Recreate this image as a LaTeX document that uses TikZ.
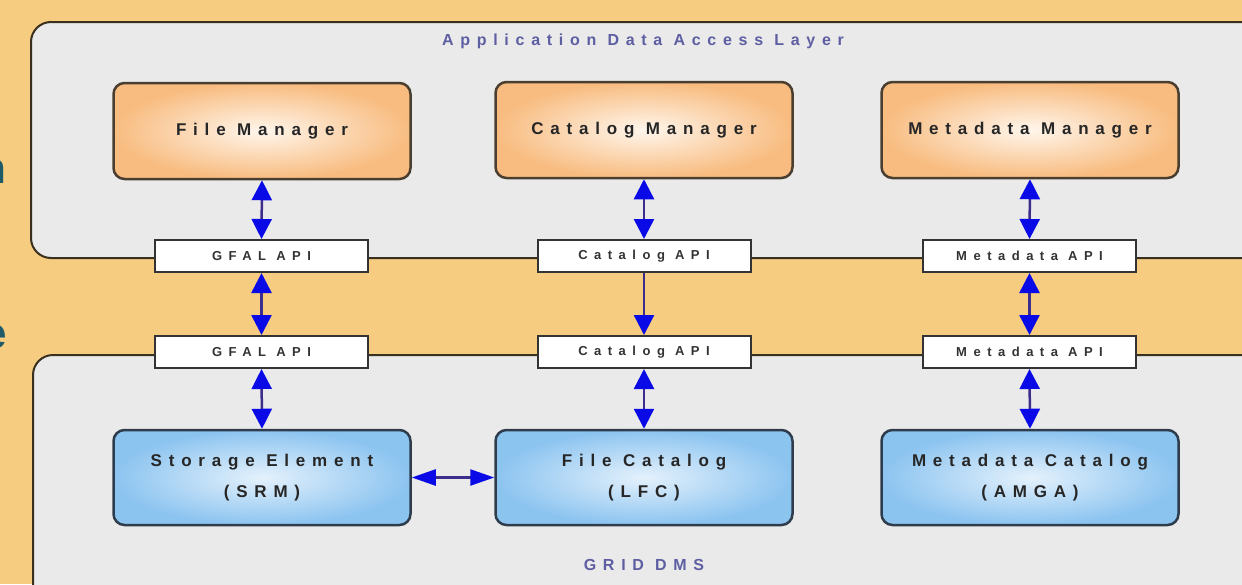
\documentclass[tikz,border=0pt]{standalone}
\usepackage{fontspec}
\usetikzlibrary{arrows.meta,shapes.geometric}
\setmainfont{Liberation Sans}
\newfontfamily\boxfont[LetterSpace=40]{Liberation Sans}
\newfontfamily\apifont[LetterSpace=50]{Liberation Sans}
\newfontfamily\layerfont[LetterSpace=42]{Liberation Sans}
\newfontfamily\slidefont{Liberation Sans}

\definecolor{pagebg}{HTML}{F5CC80}
\definecolor{panelbg}{HTML}{EAEAEA}
\definecolor{panelline}{HTML}{3A3020}
\definecolor{mgrout}{HTML}{F8BC80}
\definecolor{mgrin}{HTML}{FFF6EC}
\definecolor{mgrline}{HTML}{4A3E30}
\definecolor{dmsout}{HTML}{8CC4F0}
\definecolor{dmsin}{HTML}{E4F1FC}
\definecolor{dmsline}{HTML}{2E3C4C}
\definecolor{layertext}{HTML}{5E5EA2}
\definecolor{boxtext}{HTML}{262626}
\definecolor{linkline}{HTML}{3C2C8C}
\definecolor{tipblue}{HTML}{0A0AE6}
\definecolor{slideteal}{HTML}{1E5A68}

\tikzset{
  panel/.style={draw=panelline, line width=2pt, fill=panelbg, rounded corners=20pt},
  mgr/.style={draw=mgrline, line width=2.5pt, rounded corners=11pt,
    shading=radial, inner color=mgrin, outer color=mgrout,
    minimum width=297pt, minimum height=96pt, inner sep=0pt,
    font=\boxfont\bfseries\fontsize{17}{20}\selectfont, text=boxtext, align=center},
  dms/.style={mgr, draw=dmsline, inner color=dmsin, outer color=dmsout,
    minimum height=95pt, font=\boxfont\bfseries\fontsize{17}{31}\selectfont},
  api/.style={draw=black!80, line width=2pt, fill=white,
    minimum width=213pt, minimum height=32pt, inner sep=0pt,
    font=\apifont\bfseries\fontsize{13}{15}\selectfont, text=black!80},
  layer/.style={font=\layerfont\bfseries\fontsize{16}{19}\selectfont, text=layertext},
  link/.style={draw=linkline, line width=2.5pt},
  both/.style={link, {Triangle[width=20pt,length=20pt,color=tipblue]}-{Triangle[width=20pt,length=20pt,color=tipblue]}},
  down/.style={link, -{Triangle[width=20pt,length=20pt,color=tipblue]}},
  side/.style={link, {Triangle[width=16pt,length=24pt,color=tipblue]}-{Triangle[width=16pt,length=24pt,color=tipblue]}}
}

\begin{document}
\begin{tikzpicture}[x=1pt,y=-1pt]
  \useasboundingbox (0,0) rectangle (1242,584);
  \clip (0,0) rectangle (1242,584);
  \fill[pagebg] (0,0) rectangle (1242,584);

  % slide title letters cut by the page edge
  \node[inner sep=0pt, anchor=base east, text=slideteal,
        font=\slidefont\bfseries\fontsize{44}{44}\selectfont] (t1) at (7,183) {n};
  \node[inner sep=0pt, anchor=base east, text=slideteal,
        font=\slidefont\bfseries\fontsize{44}{44}\selectfont] (t2) at (7,348) {e};

  % layers
  \draw[panel] (31,22) rectangle (1275,258);
  \draw[panel] (33,355) rectangle (1275,620);
  \node[layer] (toplabel) at (643,41) {Application Data Access Layer};
  \node[layer] (botlabel) at (644,565) {GRID DMS};

  % managers
  \node[mgr] (fm) at (262,131) {File Manager};
  \node[mgr] (cm) at (644,130) {Catalog Manager};
  \node[mgr] (mm) at (1030,130) {Metadata Manager};

  % API boxes
  \node[api] (ga1) at (261.5,256) {GFAL API};
  \node[api] (ca1) at (644,256) {Catalog API};
  \node[api] (ma1) at (1029.5,256) {Metadata API};
  \node[api] (ga2) at (261.5,352) {GFAL API};
  \node[api] (ca2) at (644,352) {Catalog API};
  \node[api] (ma2) at (1029.5,352) {Metadata API};

  % grid services
  \node[dms] (se) at (262,477.5) {Storage Element\\(SRM)};
  \node[dms] (fc) at (644,477.5) {File Catalog\\(LFC)};
  \node[dms] (mc) at (1030,477.5) {Metadata Catalog\\(AMGA)};

  % connectors
  \draw[both] (fm.south) -- (ga1.north);
  \draw[both] (cm.south) -- (ca1.north);
  \draw[both] (mm.south) -- (ma1.north);
  \draw[both] (ga1.south) -- (ga2.north);
  \draw[down] (ca1.south) -- (ca2.north);
  \draw[both] (ma1.south) -- (ma2.north);
  \draw[both] (ga2.south) -- (se.north);
  \draw[both] (ca2.south) -- (fc.north);
  \draw[both] (ma2.south) -- (mc.north);
  \draw[side] (se.east) -- (fc.west);
\end{tikzpicture}
\end{document}
